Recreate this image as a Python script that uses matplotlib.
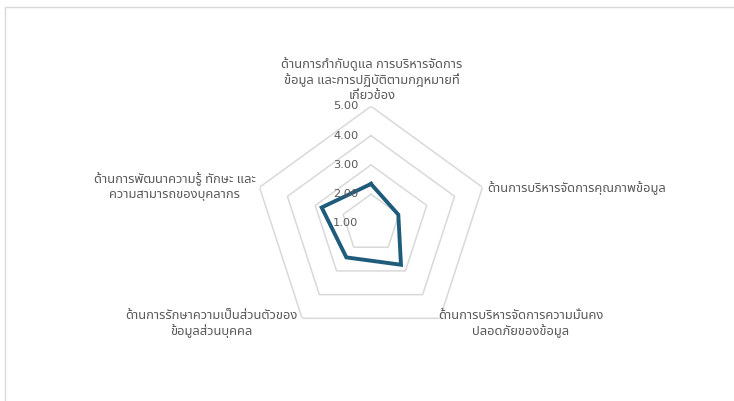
import numpy as np
import matplotlib
matplotlib.use("Agg")
import matplotlib.pyplot as plt
from matplotlib import font_manager
from matplotlib.ft2font import FT2Font
from matplotlib.patches import Rectangle

# Radar categories and scores
categories = [
    "ด้านการกำกับดูแล การบริหารจัดการ\nข้อมูล และการปฏิบัติตามกฎหมายที่\nเกี่ยวข้อง",
    "ด้านการบริหารจัดการคุณภาพข้อมูล",
    "ด้านการบริหารจัดการความมั่นคง\nปลอดภัยของข้อมูล",
    "ด้านการรักษาความเป็นส่วนตัวของ\nข้อมูลส่วนบุคคล",
    "ด้านการพัฒนาความรู้ ทักษะ และ\nความสามารถของบุคลากร",
]
scores = [2.35, 1.98, 2.74, 2.43, 2.77]
ring_levels = [1, 2, 3, 4, 5]
ring_labels = ["1.00", "2.00", "3.00", "4.00", "5.00"]


def find_thai_family():
    preferred = ["Noto Sans Thai", "Noto Sans Thai UI", "Loma", "Garuda", "Tahoma",
                 "Leelawadee UI", "Sarabun", "Kinnari", "Norasi"]
    found = []
    for fe in font_manager.fontManager.ttflist:
        try:
            cmap = FT2Font(fe.fname).get_charmap()
        except Exception:
            continue
        if 0x0E01 in cmap and 0x0E32 in cmap:
            found.append(fe.name)
    for name in preferred:
        if name in found:
            return name
    return found[0] if found else None


thai = find_thai_family()
families = ([thai] if thai else []) + ["DejaVu Sans"]
plt.rcParams["font.family"] = families

W, H, DPI = 734, 401, 100
fig = plt.figure(figsize=(W / DPI, H / DPI), dpi=DPI)
fig.patch.set_facecolor("white")

# light chart-area frame
fig.add_artist(Rectangle((5 / W, -0.1), 1.2, (401 - 7) / H + 0.1, transform=fig.transFigure,
                         fill=False, edgecolor="#d9d9d9", linewidth=1.0))

cx, cy, R = 371, 223.5, 117.2
ax = fig.add_axes([(cx - R) / W, (H - cy - R) / H, 2 * R / W, 2 * R / H], projection="polar")
ax.set_theta_offset(np.pi / 2)
ax.set_theta_direction(-1)
ax.set_ylim(1, 5)
ax.axis("off")

n = len(scores)
theta = np.linspace(0, 2 * np.pi, n, endpoint=False)
theta_closed = np.append(theta, theta[0])

grid_color = "#d9d9d9"
for lvl in ring_levels[1:]:
    ax.plot(theta_closed, [lvl] * (n + 1), color=grid_color, lw=1.1, zorder=1)

ax.plot(theta_closed, scores + scores[:1], color="#1f5c7c", lw=2.8,
        solid_joinstyle="miter", zorder=3)

txt_color = "#595959"
for lvl, lab in zip(ring_levels, ring_labels):
    ax.annotate(lab, xy=(0, lvl), xytext=(-9, 0), textcoords="offset points",
                ha="right", va="center", fontsize=8.2, color=txt_color, family="DejaVu Sans",
                zorder=4)

# category label placement (offsets in points from each outer vertex)
px = 0.72
label_cfg = [
    dict(off=(1 * px, 4 * px), ha="center", va="bottom"),
    dict(off=(5 * px, -1 * px), ha="left", va="center"),
    dict(off=(81 * px, 9 * px), ha="center", va="top"),
    dict(off=(-91 * px, 9 * px), ha="center", va="top"),
    dict(off=(-85 * px, 1 * px), ha="center", va="center"),
]
for t, lab, cfg in zip(theta, categories, label_cfg):
    ax.annotate(lab, xy=(t, 5), xytext=cfg["off"], textcoords="offset points",
                ha=cfg["ha"], va=cfg["va"], multialignment="center",
                fontsize=9.3, color=txt_color, linespacing=1.2, annotation_clip=False)

fig.savefig("out.png", dpi=DPI, facecolor="white")
